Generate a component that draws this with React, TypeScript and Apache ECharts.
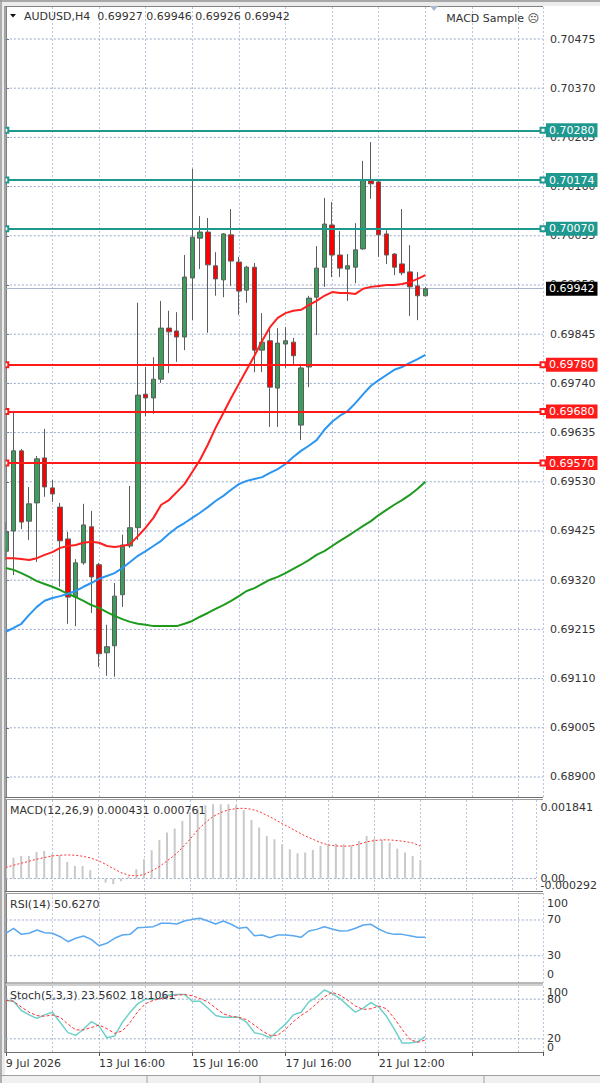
import React, { useEffect, useRef } from 'react';
import * as echarts from 'echarts';

// ---------- DATA ----------
const symbolTitle = 'AUDUSD,H4';
const lastOHLC = ['0.69927', '0.69946', '0.69926', '0.69942'];
const expertName = 'MACD Sample \u2639';

const opens = [0.69382, 0.69425, 0.69596, 0.69446, 0.69485, 0.69581, 0.69517, 0.69476, 0.69408, 0.69284,
  0.69357, 0.69434, 0.69353, 0.69165, 0.69180, 0.69289, 0.69393, 0.69432, 0.69717, 0.69709,
  0.69749, 0.69858, 0.69852, 0.69839, 0.69965, 0.70050, 0.70063, 0.69991, 0.69961, 0.70057,
  0.69999, 0.69939, 0.69988, 0.69811, 0.69831, 0.69730, 0.69824, 0.69828, 0.69651, 0.69775,
  0.69924, 0.69988, 0.70078, 0.70014, 0.69984, 0.69988, 0.70027, 0.70174, 0.70170, 0.70059,
  0.70016, 0.69995, 0.69978, 0.69948, 0.69927];
const highs = [0.69444, 0.69677, 0.69600, 0.69519, 0.69585, 0.69643, 0.69534, 0.69485, 0.69423, 0.69365,
  0.69483, 0.69468, 0.69357, 0.69225, 0.69314, 0.69417, 0.69521, 0.69912, 0.69775, 0.69796,
  0.69916, 0.69895, 0.69892, 0.70014, 0.70198, 0.70097, 0.70093, 0.70020, 0.70061, 0.70112,
  0.70010, 0.69991, 0.69997, 0.69890, 0.69860, 0.69858, 0.69860, 0.69837, 0.69779, 0.69927,
  0.70033, 0.70136, 0.70127, 0.70065, 0.70016, 0.70082, 0.70215, 0.70255, 0.70172, 0.70067,
  0.70018, 0.70112, 0.70035, 0.69978, 0.69946];
const lows = [0.69363, 0.69331, 0.69429, 0.69406, 0.69359, 0.69498, 0.69487, 0.69306, 0.69227, 0.69222,
  0.69353, 0.69250, 0.69135, 0.69116, 0.69114, 0.69263, 0.69389, 0.69406, 0.69670, 0.69675,
  0.69741, 0.69762, 0.69786, 0.69811, 0.69875, 0.69984, 0.69848, 0.69927, 0.69924, 0.69948,
  0.69886, 0.69912, 0.69764, 0.69764, 0.69647, 0.69647, 0.69773, 0.69781, 0.69619, 0.69732,
  0.69843, 0.69946, 0.69967, 0.69967, 0.69916, 0.69954, 0.70025, 0.70134, 0.70010, 0.69995,
  0.69971, 0.69971, 0.69884, 0.69875, 0.69926];
const closes = [0.69423, 0.69596, 0.69444, 0.69483, 0.69579, 0.69519, 0.69504, 0.69404, 0.69284, 0.69357,
  0.69438, 0.69327, 0.69163, 0.69178, 0.69286, 0.69395, 0.69432, 0.69715, 0.69709, 0.69749,
  0.69858, 0.69850, 0.69839, 0.69967, 0.70052, 0.70063, 0.69993, 0.69963, 0.70059, 0.70001,
  0.69937, 0.69988, 0.69811, 0.69828, 0.69732, 0.69826, 0.69831, 0.69799, 0.69773, 0.69922,
  0.69986, 0.70080, 0.70014, 0.69986, 0.69991, 0.70025, 0.70174, 0.70166, 0.70057, 0.70014,
  0.69988, 0.69976, 0.69946, 0.69927, 0.69942];

const maFast = [0.69367, 0.69367, 0.69365, 0.69363, 0.69367, 0.69374, 0.69380, 0.69389, 0.69393, 0.69395,
  0.69400, 0.69402, 0.69400, 0.69393, 0.69391, 0.69393, 0.69397, 0.69414, 0.69432, 0.69453,
  0.69481, 0.69491, 0.69508, 0.69525, 0.69551, 0.69577, 0.69609, 0.69645, 0.69677, 0.69709,
  0.69739, 0.69769, 0.69799, 0.69831, 0.69860, 0.69880, 0.69890, 0.69895, 0.69897, 0.69907,
  0.69916, 0.69927, 0.69935, 0.69933, 0.69933, 0.69931, 0.69942, 0.69946, 0.69948, 0.69950,
  0.69950, 0.69952, 0.69956, 0.69963, 0.69971];
const maMid = [0.69210, 0.69218, 0.69227, 0.69246, 0.69263, 0.69276, 0.69282, 0.69286, 0.69291, 0.69297,
  0.69306, 0.69314, 0.69323, 0.69329, 0.69335, 0.69346, 0.69359, 0.69372, 0.69382, 0.69393,
  0.69404, 0.69419, 0.69432, 0.69442, 0.69453, 0.69464, 0.69476, 0.69489, 0.69500, 0.69513,
  0.69525, 0.69532, 0.69536, 0.69540, 0.69549, 0.69557, 0.69568, 0.69583, 0.69596, 0.69607,
  0.69619, 0.69641, 0.69658, 0.69671, 0.69681, 0.69698, 0.69717, 0.69735, 0.69747, 0.69758,
  0.69769, 0.69775, 0.69784, 0.69792, 0.69801];
const maSlow = [0.69346, 0.69342, 0.69335, 0.69327, 0.69318, 0.69312, 0.69306, 0.69299, 0.69291, 0.69284,
  0.69276, 0.69267, 0.69261, 0.69252, 0.69244, 0.69237, 0.69231, 0.69227, 0.69225, 0.69222,
  0.69222, 0.69222, 0.69222, 0.69227, 0.69233, 0.69242, 0.69250, 0.69259, 0.69267, 0.69276,
  0.69286, 0.69297, 0.69303, 0.69312, 0.69321, 0.69327, 0.69335, 0.69344, 0.69353, 0.69363,
  0.69374, 0.69382, 0.69393, 0.69404, 0.69414, 0.69425, 0.69436, 0.69446, 0.69459, 0.69470,
  0.69481, 0.69491, 0.69502, 0.69515, 0.69530];

const macdMain = [0.000280, 0.000491, 0.000530, 0.000530, 0.000624, 0.000648, 0.000570, 0.000546, 0.000390, 0.000296,
  0.000296, 0.000195, 0.000015, -0.000095, -0.000134, -0.000063, 0.000046, 0.000218, 0.000452, 0.000663,
  0.000906, 0.001077, 0.001171, 0.001351, 0.001546, 0.001663, 0.001718, 0.001742, 0.001742, 0.001742,
  0.001718, 0.001609, 0.001374, 0.001195, 0.000999, 0.000921, 0.000804, 0.000687, 0.000593, 0.000609,
  0.000671, 0.000765, 0.000804, 0.000820, 0.000804, 0.000781, 0.000882, 0.000999, 0.000937, 0.000906,
  0.000843, 0.000702, 0.000609, 0.000530, 0.000431];
const macdSignal = [0.000257, 0.000312, 0.000359, 0.000405, 0.000452, 0.000491, 0.000530, 0.000546, 0.000554, 0.000546,
  0.000523, 0.000484, 0.000421, 0.000335, 0.000234, 0.000140, 0.000077, 0.000062, 0.000093, 0.000179,
  0.000280, 0.000413, 0.000546, 0.000726, 0.000921, 0.001140, 0.001312, 0.001452, 0.001546, 0.001609,
  0.001640, 0.001648, 0.001624, 0.001570, 0.001484, 0.001390, 0.001288, 0.001195, 0.001093, 0.000999,
  0.000921, 0.000843, 0.000788, 0.000765, 0.000757, 0.000765, 0.000804, 0.000859, 0.000890, 0.000906,
  0.000906, 0.000890, 0.000866, 0.000835, 0.000761];

const rsi = [55.1, 60.7, 53.9, 55.1, 58.8, 55.8, 55.1, 51.3, 45.7, 49.5,
  52.1, 48.3, 41.2, 43.9, 49.5, 53.2, 53.9, 61.4, 61.8, 62.5,
  66.3, 66.3, 65.5, 68.9, 70.7, 71.9, 68.9, 65.5, 68.9, 65.2,
  60.7, 61.8, 52.4, 53.2, 50.2, 53.2, 53.2, 52.4, 50.6, 57.7,
  59.5, 62.5, 59.9, 57.7, 58.0, 60.7, 64.4, 65.2, 59.9, 55.8,
  53.9, 53.9, 52.4, 50.6, 50.627];

const stochK = [78.4, 76.9, 62.9, 56.2, 51.0, 56.2, 60.3, 44.8, 29.3, 25.2,
  34.5, 45.9, 39.7, 21.6, 24.1, 44.8, 60.3, 73.3, 80.0, 80.0,
  81.0, 86.2, 87.2, 87.2, 76.9, 76.9, 66.6, 55.2, 52.6, 52.6,
  52.6, 44.8, 29.3, 26.7, 21.6, 31.9, 42.2, 56.2, 60.3, 75.9,
  83.6, 94.0, 88.8, 81.0, 70.7, 60.3, 66.6, 74.8, 68.1, 54.1,
  34.5, 13.8, 13.8, 15.4, 23.56];
const stochD = [78.4, 76.9, 68.1, 60.3, 55.2, 54.1, 56.2, 52.6, 42.2, 33.5,
  33.5, 37.1, 40.7, 35.5, 28.3, 31.9, 44.8, 61.4, 73.3, 78.4,
  81.0, 83.6, 86.2, 87.2, 85.2, 81.0, 75.9, 66.6, 57.8, 54.1,
  52.6, 49.0, 40.7, 31.9, 25.2, 25.2, 34.5, 45.9, 55.2, 62.9,
  73.3, 83.6, 90.3, 86.2, 78.4, 69.7, 64.5, 65.5, 69.7, 65.5,
  51.0, 34.5, 19.0, 14.8, 18.11];

const priceTicks = [0.70475, 0.70370, 0.70265, 0.70160, 0.70055, 0.69950, 0.69845, 0.69740,
  0.69635, 0.69530, 0.69425, 0.69320, 0.69215, 0.69110, 0.69005, 0.68900];
const resistanceLevels = [0.70280, 0.70174, 0.70070];
const supportLevels = [0.69780, 0.69680, 0.69570];
const lastPrice = 0.69942;

const macdMin = -0.000292;
const macdMax = 0.001841;
const macdMidTicks = [0];
const macdEdgeTicks = [macdMax, macdMin];
const macdLevels = [0];
const rsiTicks = [100, 70, 30, 0];
const rsiLevels = [70, 30];
const stochMidTicks = [80, 20];
const stochEdgeTicks = [100, 0];
const stochLevels = [80, 20];
const dateLabels = ['9 Jul 2026', '13 Jul 16:00', '15 Jul 16:00', '17 Jul 16:00', '21 Jul 12:00'];

const macdTitle = 'MACD(12,26,9) 0.000431 0.000761';
const rsiTitle = 'RSI(14) 50.6270';
const stochTitle = 'Stoch(5,3,3) 23.5602 18.1061';

// ---------- LAYOUT / STYLE ----------
const FONT = 'DejaVu Sans';
const TXT = '#333333';
const GRIDC = '#b9c6de';
const HGRIDC = '#96a8c8';
const TEAL = '#1f9890';
const RED = '#ff1a1a';
const XMAX = 69.14;
const LEFT = 5.8;
const WIDTH = 537.2;
const PMAX = 0.705433;
const PMIN = 0.688573;

const idx = (arr: number[]) => arr.map((v, i) => [i, v]);
const dashed = { show: true, lineStyle: { color: GRIDC, type: [2, 2], width: 1 } };

// horizontal grid / level lines drawn as line series spanning the x extent
const hLines = (values: number[], xi: number, yi: number) =>
  values.map((v) => ({
    type: 'line', xAxisIndex: xi, yAxisIndex: yi, z: 1, silent: true, showSymbol: false,
    data: [[0, v], [XMAX, v]],
    lineStyle: { color: HGRIDC, type: [2, 2], width: 1 },
  }));

const splitX = (gi: number) => ({
  type: 'value', gridIndex: gi, min: 0, max: XMAX, interval: 6, position: 'top',
  axisLine: { show: false }, axisTick: { show: false }, axisLabel: { show: false },
  splitLine: dashed,
});

const edgeFmt = (top: number, bottom: number, fmt: (v: number) => string) => (v: number) => {
  if (v === top) return `{t|${fmt(v)}}`;
  if (v === bottom) return `{b|${fmt(v)}}`;
  return fmt(v);
};

const subY = (
  gi: number, min: number, max: number, ticks: number[], fmt: (v: number) => string,
  padT: number, padB: number, showLine: boolean,
) => ({
  type: 'value', gridIndex: gi, position: 'right', min, max,
  axisLine: { show: showLine, lineStyle: { color: '#808080' } },
  axisTick: { show: false, customValues: ticks },
  axisLabel: {
    customValues: ticks, margin: 4, color: TXT, fontFamily: FONT, fontSize: 11,
    showMinLabel: true, showMaxLabel: true, hideOverlap: false,
    formatter: edgeFmt(max, min, fmt),
    rich: {
      t: { padding: [padT, 0, 0, 0], color: TXT, fontFamily: FONT, fontSize: 11 },
      b: { padding: [0, 0, padB, 0], color: TXT, fontFamily: FONT, fontSize: 11 },
    },
  },
  splitLine: { show: false },
});

const levelItem = (v: number, color: string) => ({
  yAxis: v,
  lineStyle: { color, width: 2, type: 'solid' },
  itemStyle: { color },
  label: { backgroundColor: color },
});

const macdFmt = (v: number) => (v === 0 ? '0.00' : v.toFixed(6));

const option: any = {
  animation: false,
  backgroundColor: '#ffffff',
  grid: [
    { left: LEFT, top: 7, width: WIDTH, height: 790 },
    { left: LEFT, top: 800, width: WIDTH, height: 91 },
    { left: LEFT, top: 893.2, width: WIDTH, height: 89.3 },
    { left: LEFT, top: 986, width: WIDTH, height: 66 },
  ],
  xAxis: [
    splitX(0), splitX(1), splitX(2), splitX(3),
    {
      type: 'value', gridIndex: 3, min: 0, max: XMAX, interval: 12, position: 'bottom',
      axisLine: { show: false },
      axisTick: { show: true, length: 4, lineStyle: { color: '#555' } },
      axisLabel: {
        show: true, align: 'left', margin: 6, color: TXT, fontFamily: FONT, fontSize: 11,
        formatter: (v: number) => (v % 12 === 0 && dateLabels[v / 12]) || '',
      },
      splitLine: { show: false },
    },
  ],
  yAxis: [
    {
      type: 'value', gridIndex: 0, position: 'right', min: PMIN, max: PMAX,
      axisLine: { show: true, lineStyle: { color: '#808080' } },
      axisTick: { show: true, length: 3, customValues: priceTicks, lineStyle: { color: '#555' } },
      axisLabel: {
        customValues: priceTicks, margin: 7, color: TXT, fontFamily: FONT, fontSize: 11,
        formatter: (v: number) => v.toFixed(5),
      },
      splitLine: { show: false },
    },
    subY(1, macdMin, macdMax, macdMidTicks, macdFmt, 14, 12, true),
    subY(1, macdMin, macdMax, macdEdgeTicks, macdFmt, 14, 12, false),
    subY(2, 0, 100, rsiTicks, (v) => String(v), 20, 17, true),
    subY(3, 0, 100, stochMidTicks, (v) => String(v), 12, 10, true),
    subY(3, 0, 100, stochEdgeTicks, (v) => String(v), 12, 10, false),
  ],
  series: [
    ...hLines(priceTicks, 0, 0),
    ...hLines(macdLevels, 1, 1),
    ...hLines(rsiLevels, 2, 3),
    ...hLines(stochLevels, 3, 4),
    {
      type: 'candlestick', xAxisIndex: 0, yAxisIndex: 0, z: 3, clip: false,
      barWidth: 5,
      encode: { x: 0, y: [1, 2, 3, 4] },
      data: opens.map((o, i) => [i, o, closes[i], lows[i], highs[i]]),
      itemStyle: { color: '#3c9d5d', color0: '#ff0000', borderColor: '#5c5c5c', borderColor0: '#5c5c5c', borderWidth: 1 },
    },
    {
      type: 'line', xAxisIndex: 0, yAxisIndex: 0, z: 4, data: idx(maSlow), showSymbol: false,
      lineStyle: { color: '#1e9a1e', width: 2 },
      markLine: {
        silent: true,
        z: 6,
        precision: 8,
        symbol: ['emptyRect', 'emptyRect'],
        symbolSize: 5,
        label: {
          show: true, position: 'end', distance: 3, color: '#ffffff', fontFamily: FONT, fontSize: 11,
          padding: [2, 3, 1, 3], formatter: (p: any) => Number(p.value).toFixed(5),
        },
        data: [
          ...resistanceLevels.map((v) => levelItem(v, TEAL)),
          ...supportLevels.map((v) => levelItem(v, RED)),
        ],
      },
    },
    {
      type: 'line', xAxisIndex: 0, yAxisIndex: 0, z: 4, data: idx(maMid), showSymbol: false,
      lineStyle: { color: '#2b95f2', width: 2 },
    },
    {
      type: 'line', xAxisIndex: 0, yAxisIndex: 0, z: 4, data: idx(maFast), showSymbol: false,
      lineStyle: { color: '#ff1f1f', width: 2 },
      markLine: {
        silent: true, z: 2, symbol: 'none', precision: 8,
        lineStyle: { color: '#a9b5ca', width: 1, type: 'solid' },
        label: {
          show: true, position: 'end', distance: 3, color: '#ffffff', backgroundColor: '#000000',
          fontFamily: FONT, fontSize: 11, padding: [2, 3, 1, 3],
          formatter: (p: any) => Number(p.value).toFixed(5),
        },
        data: [{ yAxis: lastPrice }],
      },
    },
    // MACD
    {
      type: 'bar', xAxisIndex: 1, yAxisIndex: 1, data: idx(macdMain), barWidth: 2,
      itemStyle: { color: '#c9c9c9' },
    },
    {
      type: 'line', xAxisIndex: 1, yAxisIndex: 1, data: idx(macdSignal), showSymbol: false, z: 3,
      lineStyle: { color: '#ff3030', width: 1, type: [2, 2] },
    },
    // RSI
    {
      type: 'line', xAxisIndex: 2, yAxisIndex: 3, data: idx(rsi), showSymbol: false,
      lineStyle: { color: '#5aa8f0', width: 1.5 },
    },
    // Stochastic
    {
      type: 'line', xAxisIndex: 3, yAxisIndex: 4, data: idx(stochK), showSymbol: false,
      lineStyle: { color: '#6fd0ca', width: 1.5 },
    },
    {
      type: 'line', xAxisIndex: 3, yAxisIndex: 4, data: idx(stochD), showSymbol: false,
      lineStyle: { color: '#ff3030', width: 1, type: [3, 2] },
    },
  ],
  graphic: [
    // window frame
    { type: 'rect', shape: { x: 0, y: 0, width: 600, height: 6 }, style: { fill: '#ececec' }, silent: true, z: 10 },
    { type: 'rect', shape: { x: 0, y: 0, width: 5, height: 1083 }, style: { fill: '#ececec' }, silent: true, z: 10 },
    { type: 'line', shape: { x1: 0, y1: 1, x2: 600, y2: 1 }, style: { stroke: '#a8a8a8', lineWidth: 2 }, silent: true, z: 11 },
    { type: 'line', shape: { x1: 1, y1: 0, x2: 1, y2: 1083 }, style: { stroke: '#9a9a9a', lineWidth: 1.5 }, silent: true, z: 11 },
    { type: 'line', shape: { x1: 5, y1: 6, x2: 5, y2: 1053 }, style: { stroke: '#8a8a8a', lineWidth: 1.5 }, silent: true, z: 11 },
    { type: 'line', shape: { x1: 5, y1: 6.5, x2: 543, y2: 6.5 }, style: { stroke: '#808080', lineWidth: 1 }, silent: true, z: 11 },
    // panel separators
    ...[797.5, 891.5, 983, 1052.5].map((y) => ({
      type: 'line', shape: { x1: 5, y1: y, x2: 543, y2: y }, style: { stroke: '#707070', lineWidth: 1 }, silent: true, z: 11,
    })),
    ...[799.5, 893.5, 985].map((y) => ({
      type: 'line', shape: { x1: 5, y1: y, x2: 543, y2: y }, style: { stroke: '#a0a0a0', lineWidth: 1 }, silent: true, z: 11,
    })),
    // bottom tab bar
    { type: 'rect', shape: { x: 0, y: 1075, width: 600, height: 8 }, style: { fill: '#f0f0f0' }, silent: true, z: 10 },
    { type: 'line', shape: { x1: 0, y1: 1075.5, x2: 600, y2: 1075.5 }, style: { stroke: '#a0a0a0', lineWidth: 1 }, silent: true, z: 11 },
    ...[147, 260, 373, 484].map((x) => ({
      type: 'line', shape: { x1: x, y1: 1076, x2: x, y2: 1083 }, style: { stroke: '#a0a0a0', lineWidth: 1 }, silent: true, z: 11,
    })),
    // chart shift marker
    { type: 'polygon', shape: { points: [[430, 6], [438, 6], [434, 11]] }, style: { fill: '#a9b9d3' }, silent: true, z: 11 },
    // header
    { type: 'polygon', shape: { points: [[10, 14], [16, 14], [13, 17.5]] }, style: { fill: '#111' }, silent: true, z: 12 },
    {
      type: 'text', x: 24, y: 16, silent: true, z: 12,
      style: { text: `${symbolTitle}  ${lastOHLC.join(' ')}`, fill: TXT, font: `11px "${FONT}"`, verticalAlign: 'middle' },
    },
    {
      type: 'text', x: 539, y: 18, silent: true, z: 12,
      style: { text: expertName, fill: TXT, font: `11px "${FONT}"`, align: 'right', verticalAlign: 'middle' },
    },
    {
      type: 'text', x: 10, y: 810, silent: true, z: 12,
      style: { text: macdTitle, fill: TXT, font: `11px "${FONT}"`, verticalAlign: 'middle' },
    },
    {
      type: 'text', x: 10, y: 904.5, silent: true, z: 12,
      style: { text: rsiTitle, fill: TXT, font: `11px "${FONT}"`, verticalAlign: 'middle' },
    },
    {
      type: 'text', x: 10, y: 995, silent: true, z: 12,
      style: { text: stochTitle, fill: TXT, font: `11px "${FONT}"`, verticalAlign: 'middle' },
    },
  ],
};

export default function App() {
  const ref = useRef<HTMLDivElement>(null);
  useEffect(() => {
    const chart = echarts.init(ref.current as HTMLDivElement, null, { renderer: 'svg' });
    chart.setOption(option);
    return () => chart.dispose();
  }, []);
  return (
    <div
      ref={ref}
      style={{ position: 'absolute', left: 0, top: 0, width: 600, height: 1083, background: '#ffffff' }}
    />
  );
}
